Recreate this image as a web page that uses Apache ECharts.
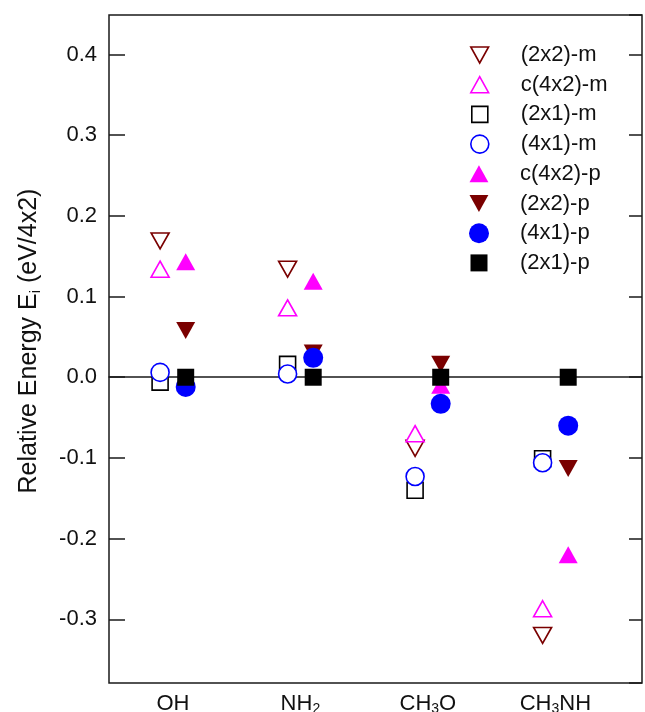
<!DOCTYPE html>
<html>
<head>
<meta charset="utf-8">
<script src="https://cdn.jsdelivr.net/npm/echarts@6/dist/echarts.min.js"></script>
<style>html,body{margin:0;padding:0;background:#fff;}#c{width:645px;height:712px;}</style>
</head>
<body>
<div id="c"></div>
<script>
const categories = ['OH', 'NH2', 'CH3O', 'CH3NH'];
const seriesNames = ['(2x2)-m', 'c(4x2)-m', '(2x1)-m', '(4x1)-m', 'c(4x2)-p', '(2x2)-p', '(4x1)-p', '(2x1)-p'];
const m2x2 = [0.169, 0.134, -0.088, -0.320];
const mc4x2 = [0.134, 0.086, -0.070, -0.287];
const m2x1 = [-0.006, 0.016, -0.140, -0.101];
const m4x1 = [0.006, 0.004, -0.123, -0.106];
const pc4x2 = [0.143, 0.119, -0.010, -0.220];
const p2x2 = [0.058, 0.030, 0.016, -0.113];
const p4x1 = [-0.012, 0.024, -0.033, -0.060];
const p2x1 = [0.000, 0.000, 0.000, 0.000];
const yTicks = ['-0.3', '-0.2', '-0.1', '0.0', '0.1', '0.2', '0.3', '0.4'];

const FONT = 'Liberation Sans, Arial, sans-serif';
const YMIN = -0.379, YMAX = 0.449;
const MAROON = '#7a0000', MAGENTA = '#ff00ff', BLUE = '#0000ff', BLACK = '#000000';
const TRI_UP = 'path://M10,0L20,18L0,18Z';
const TRI_DOWN = 'path://M0,0L20,0L10,18Z';

function hollow(name, data, symbol, size, color) {
  return {
    name, type: 'scatter', xAxisIndex: 1, yAxisIndex: 2, data,
    symbol, symbolSize: size, symbolOffset: [-12.8, 0],
    itemStyle: { color: '#ffffff', borderColor: color, borderWidth: 1.6, opacity: 1 },
    emphasis: { disabled: true }
  };
}
function filled(name, data, symbol, size, color) {
  return {
    name, type: 'scatter', xAxisIndex: 1, yAxisIndex: 2, data,
    symbol, symbolSize: size, symbolOffset: [12.8, 0],
    itemStyle: { color: color, borderWidth: 0, opacity: 1 },
    emphasis: { disabled: true }
  };
}
function subFmt(v) {
  return v.replace(/(\d)/g, '{s|$1}');
}

const series = [
  hollow(seriesNames[0], m2x2, TRI_DOWN, [18, 16], MAROON),
  hollow(seriesNames[1], mc4x2, TRI_UP, [18, 16], MAGENTA),
  hollow(seriesNames[2], m2x1, 'rect', 16, BLACK),
  hollow(seriesNames[3], m4x1, 'circle', 18, BLUE),
  filled(seriesNames[4], pc4x2, TRI_UP, [19, 17], MAGENTA),
  filled(seriesNames[5], p2x2, TRI_DOWN, [19, 17], MAROON),
  filled(seriesNames[6], p4x1, 'circle', 20, BLUE),
  filled(seriesNames[7], p2x1, 'rect', 17, BLACK)
];

// one legend per entry so each icon keeps its own size
const LEG_X = 479, LEG_Y0 = 55, LEG_DY = 29.7, LEG_TEXT_X = 520, LEG_FS = 22;
const legends = series.map(function (s, i) {
  const sz = Array.isArray(s.symbolSize) ? s.symbolSize : [s.symbolSize, s.symbolSize];
  const w = sz[0], h = sz[1];
  return {
    orient: 'vertical', padding: 0,
    left: LEG_X - w / 2, top: LEG_Y0 + i * LEG_DY - Math.max(h, LEG_FS) / 2,
    itemWidth: w, itemHeight: h,
    data: [{ name: s.name, icon: s.symbol, itemStyle: s.itemStyle }],
    textStyle: { fontSize: LEG_FS, lineHeight: LEG_FS, color: '#111', fontFamily: FONT,
      padding: [0, 0, 0, LEG_TEXT_X - (LEG_X + w / 2 + 5)] },
    selectedMode: false
  };
});

const chart = echarts.init(document.getElementById('c'), null, { renderer: 'canvas' });
chart.setOption({
  animation: false,
  backgroundColor: '#ffffff',
  textStyle: { fontFamily: FONT },
  grid: [
    { left: 109, right: 3, top: 15, bottom: 29, show: true, borderColor: '#1a1a1a', borderWidth: 1.5, backgroundColor: 'transparent', containLabel: false, outerBoundsMode: 'none' },
    { left: 109.15, width: 510, top: 15, bottom: 29, containLabel: false, outerBoundsMode: 'none' }
  ],
  xAxis: [
    { gridIndex: 0, type: 'value', min: 0, max: 1,
      axisLine: { show: true, onZero: true, lineStyle: { color: '#1a1a1a', width: 1.5 } },
      axisTick: { show: false }, axisLabel: { show: false }, splitLine: { show: false } },
    { gridIndex: 1, type: 'category', data: categories, boundaryGap: true,
      axisLine: { show: false }, axisTick: { show: false }, splitLine: { show: false },
      axisLabel: { interval: 0, margin: 9, fontSize: 22, lineHeight: 24, color: '#111', fontFamily: FONT,
        formatter: subFmt,
        rich: { s: { fontSize: 14, lineHeight: 12, verticalAlign: 'bottom', color: '#111', fontFamily: FONT } } } }
  ],
  yAxis: [
    { gridIndex: 0, type: 'value', min: YMIN, max: YMAX, splitNumber: 8,
      position: 'left',
      axisLine: { show: false },
      axisTick: { show: true, inside: true, length: 16, lineStyle: { color: '#1a1a1a', width: 1.5 } },
      axisLabel: { show: true, fontSize: 22, color: '#111', margin: 12, fontFamily: FONT,
        showMinLabel: false, showMaxLabel: false,
        formatter: function (v) { const s = v.toFixed(1); return yTicks.indexOf(s) >= 0 ? s : ''; } },
      splitLine: { show: false },
      name: 'Relative Energy E{sub|i} (eV/4x2)',
      nameLocation: 'middle', nameGap: 66,
      nameTextStyle: { fontSize: 25, color: '#111', fontFamily: FONT, lineHeight: 28, padding: [0, 0, 0, 16],
        rich: { sub: { fontSize: 15, lineHeight: 15, verticalAlign: 'bottom', color: '#111', fontFamily: FONT } } } },
    { gridIndex: 0, type: 'value', min: YMIN, max: YMAX, splitNumber: 8,
      position: 'right',
      axisLine: { show: false },
      axisTick: { show: true, inside: true, length: 13, lineStyle: { color: '#1a1a1a', width: 1.5 } },
      axisLabel: { show: false }, splitLine: { show: false } },
    { gridIndex: 1, type: 'value', min: YMIN, max: YMAX,
      show: false, splitLine: { show: false } }
  ],
  legend: legends,
  series: series
});
</script>
</body>
</html>
